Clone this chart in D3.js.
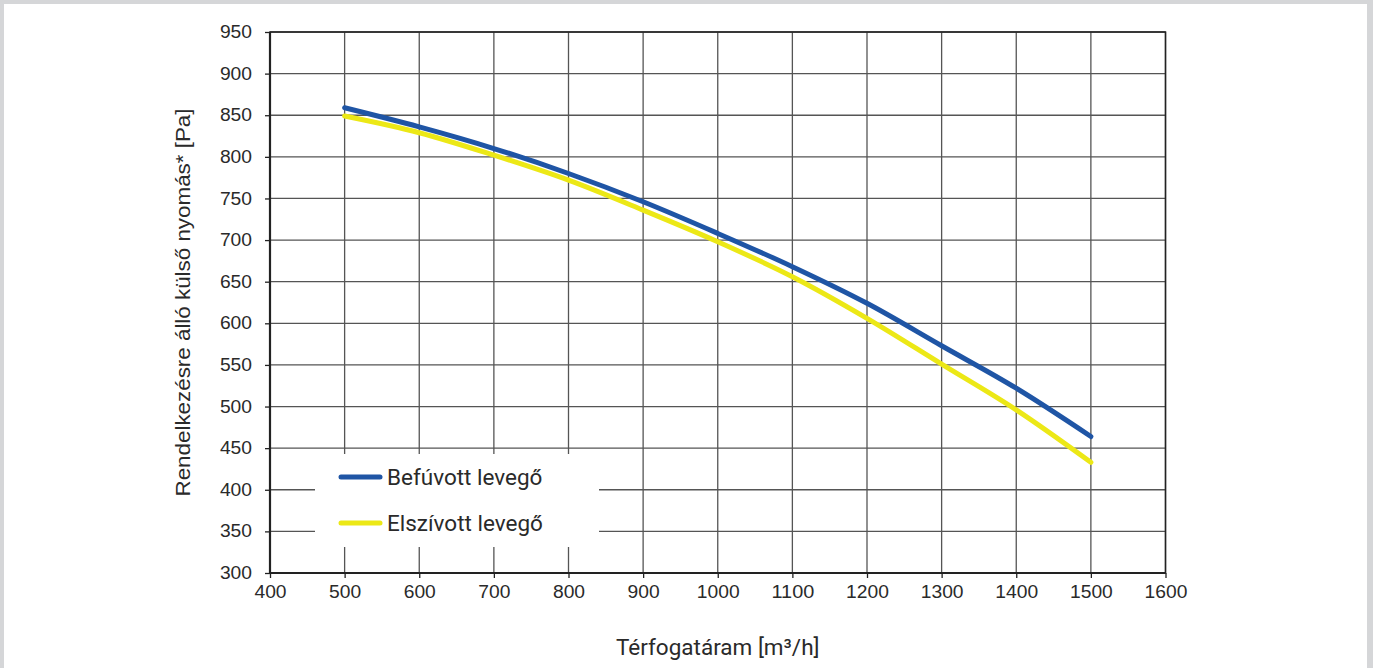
<!DOCTYPE html>
<html><head><meta charset="utf-8">
<script src="https://cdn.jsdelivr.net/npm/d3@7"></script>
<style>
html,body{margin:0;padding:0;background:#fff;}
svg{display:block;}
</style></head>
<body>
<svg id="chart" width="1373" height="668"></svg>
<script>
const xTicks = [400,500,600,700,800,900,1000,1100,1200,1300,1400,1500,1600];
const yTicks = [300,350,400,450,500,550,600,650,700,750,800,850,900,950];
const flows = [500,600,700,800,900,1000,1100,1200,1300,1400,1500];
const supplyAir = [859,836,810,780,746,708,668,624,573,522,464];
const extractAir = [849,829,802,772,736,698,656,606,551,496,433];
const seriesNames = ["Befúvott levegő","Elszívott levegő"];
const seriesColors = ["#1f55a5","#ece816"];
const yTitle = "Rendelkezésre álló külső nyomás* [Pa]";
const xTitle = "Térfogatáram [m³/h]";

const svg = d3.select("#chart");
// frame
svg.append("rect").attr("x",0).attr("y",0).attr("width",1373).attr("height",668).attr("fill","#d5d6d8");
svg.append("rect").attr("x",4).attr("y",4).attr("width",1363).attr("height",664).attr("fill","#fff");

const L=270, R=1165.5, T=32, B=573;
const x = d3.scaleLinear().domain([400,1600]).range([L,R]);
const y = d3.scaleLinear().domain([300,950]).range([B,T]);

const g = svg.append("g");
// grid
g.selectAll(".vg").data(xTicks).join("line")
  .attr("x1",d=>x(d)).attr("x2",d=>x(d)).attr("y1",T).attr("y2",B)
  .attr("stroke","#555").attr("stroke-width",1.3);
g.selectAll(".hg").data(yTicks).join("line")
  .attr("x1",L).attr("x2",R).attr("y1",d=>y(d)).attr("y2",d=>y(d))
  .attr("stroke","#555").attr("stroke-width",1.3);

// legend background
g.append("rect").attr("x",315).attr("y",454).attr("width",284).attr("height",93).attr("fill","#fff");

// frame of plot
g.append("rect").attr("x",L).attr("y",T).attr("width",R-L).attr("height",B-T)
  .attr("fill","none").attr("stroke","#222").attr("stroke-width",1.5);
g.append("line").attr("x1",L).attr("x2",L).attr("y1",T).attr("y2",B+1).attr("stroke","#222").attr("stroke-width",2.2);
g.append("line").attr("x1",L-1).attr("x2",R).attr("y1",B).attr("y2",B).attr("stroke","#222").attr("stroke-width",2.2);

// axes
const xAxis = d3.axisBottom(x).tickValues(xTicks).tickSize(5).tickPadding(8).tickFormat(d3.format("d"));
const yAxis = d3.axisLeft(y).tickValues(yTicks).tickSize(5).tickPadding(13).tickFormat(d3.format("d"));
const gx = svg.append("g").attr("transform",`translate(0,${B})`).call(xAxis);
const gy = svg.append("g").attr("transform",`translate(${L},0)`).call(yAxis);
[gx,gy].forEach(a=>{
  a.select(".domain").remove();
  a.selectAll(".tick line").attr("stroke","#222").attr("stroke-width",1.3);
  a.selectAll("text").attr("fill","#2a2a2a").style("font-family","'Liberation Sans', Arial, sans-serif").style("font-size","17.5px")
    .attr("textLength",function(){return this.textContent.length*10.7;}).attr("lengthAdjust","spacingAndGlyphs");
});

// lines
const line = d3.line().x((d,i)=>x(flows[i])).y(d=>y(d)).curve(d3.curveMonotoneX);
[supplyAir, extractAir].map((s,i)=>({s,i})).reverse().forEach(({s,i})=>{
  svg.append("path").datum(s).attr("d",line).attr("fill","none")
    .attr("stroke",seriesColors[i]).attr("stroke-width",5).attr("stroke-linecap","round");
});

// legend
const leg = svg.append("g");
seriesNames.forEach((n,i)=>{
  const yy = 477 + i*46;
  leg.append("line").attr("x1",341).attr("x2",380).attr("y1",yy).attr("y2",yy)
    .attr("stroke",seriesColors[i]).attr("stroke-width",5).attr("stroke-linecap","round");
  leg.append("text").attr("x",387).attr("y",yy+7.5).text(n)
    .attr("fill","#2a2a2a").style("font-family","Roboto, sans-serif").style("font-size","22.5px");
});

// titles
svg.append("text").attr("transform",`translate(190,${(T+B)/2}) rotate(-90)`).attr("text-anchor","middle")
  .text(yTitle).attr("fill","#2a2a2a").style("font-family","'Liberation Sans', Arial, sans-serif").style("font-size","20px")
  .attr("textLength",388).attr("lengthAdjust","spacingAndGlyphs");
svg.append("text").attr("x",(L+R)/2).attr("y",655).attr("text-anchor","middle")
  .text(xTitle).attr("fill","#2a2a2a").style("font-family","Roboto, sans-serif").style("font-size","22.5px");
</script>
</body></html>
